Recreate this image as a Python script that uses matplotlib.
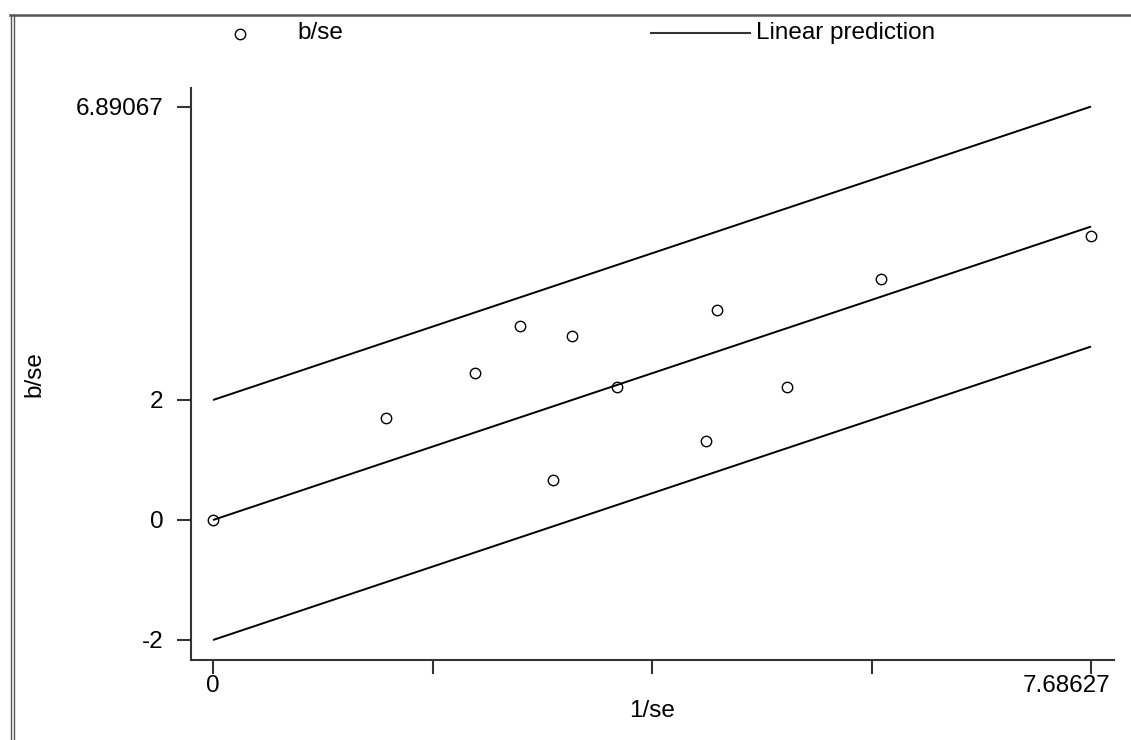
import matplotlib
matplotlib.use("Agg")
import matplotlib.pyplot as plt
from matplotlib.lines import Line2D
import numpy as np

# Galbraith plot data (1/se, b/se)
inv_se = [0.0, 1.512, 2.294, 2.688, 2.974, 3.146, 3.534, 4.316, 4.415, 5.025, 5.850, 7.686]
b_se = [0.0, 1.700, 2.455, 3.233, 0.667, 3.072, 2.212, 1.317, 3.500, 2.222, 4.022, 4.733]

x_max = 7.68627
y_top = 6.89067
band = 2.0
slope = (y_top - band) / x_max

x_ticks = [0, x_max / 4, x_max / 2, 3 * x_max / 4, x_max]
x_tick_labels = ["0", "", "", "", ""]
y_ticks = [-2, 0, 2, y_top]
y_tick_labels = ["-2", "0", "2", "6.89067"]

plt.rcParams["font.family"] = ["Liberation Sans", "DejaVu Sans"]
W, H = 1131, 740
fig = plt.figure(figsize=(W / 100, H / 100), dpi=100)
ax = fig.add_axes([191 / W, 1 - 660 / H, (1114 - 191) / W, (660 - 88) / H])

spine_col = "#333333"
fs = 17.5

xs = np.array([0.0, x_max])
for off in (band, 0.0, -band):
    ax.plot(xs, slope * xs + off, color="black", lw=1.4, solid_capstyle="butt")
ax.plot(inv_se, b_se, linestyle="none", marker="o", markersize=7.5,
        markerfacecolor="none", markeredgecolor="black", markeredgewidth=1.0)

ax.set_xlim((191 - 213) / 114.23, (1114 - 213) / 114.23)
ax.set_ylim((520 - 660) / 60, (520 - 88) / 60)

for side in ("top", "right"):
    ax.spines[side].set_visible(False)
for side in ("left", "bottom"):
    ax.spines[side].set_color(spine_col)
    ax.spines[side].set_linewidth(1.5)

ax.set_xticks(x_ticks)
ax.set_xticklabels(x_tick_labels)
ax.set_yticks(y_ticks)
ax.set_yticklabels(y_tick_labels)
ax.tick_params(axis="both", direction="out", length=10, width=1.5, color=spine_col,
               labelsize=fs, labelcolor="black")
ax.tick_params(axis="x", pad=1)
ax.tick_params(axis="y", pad=10)

# last x tick label is shifted left so it stays inside the figure
ax.annotate("7.68627", xy=(x_max, 0), xycoords=("data", "axes fraction"),
            xytext=(-24, -15), textcoords="offset pixels", ha="center", va="top",
            fontsize=fs)

ax.set_xlabel("1/se", fontsize=fs)
ax.set_ylabel("b/se", fontsize=fs)
ax.xaxis.set_label_coords(0.5, (660 - 700) / 572)
ax.yaxis.set_label_coords((45 - 191) / 923, 0.5)

# legend drawn at the top like the Stata graph
fig.add_artist(Line2D([240 / W], [1 - 34 / H], marker="o", markersize=7.5,
                      markerfacecolor="none", markeredgecolor="black",
                      markeredgewidth=1.0, linestyle="none"))
fig.text(297 / W, 1 - 33 / H, "b/se", fontsize=fs, va="center", ha="left")
fig.add_artist(Line2D([651 / W, 750 / W], [1 - 33 / H, 1 - 33 / H],
                      color=spine_col, lw=1.5))
fig.text(756 / W, 1 - 33 / H, "Linear prediction", fontsize=fs, va="center", ha="left")

# outer frame: top rule and double left rule
fig.add_artist(Line2D([10 / W, 1.0], [1 - 15 / H, 1 - 15 / H], color="#555555", lw=1.8))
for xp in (11, 14):
    fig.add_artist(Line2D([xp / W, xp / W], [0, 1 - 15 / H], color="#555555", lw=1.0))

fig.savefig("out.png", dpi=100)
